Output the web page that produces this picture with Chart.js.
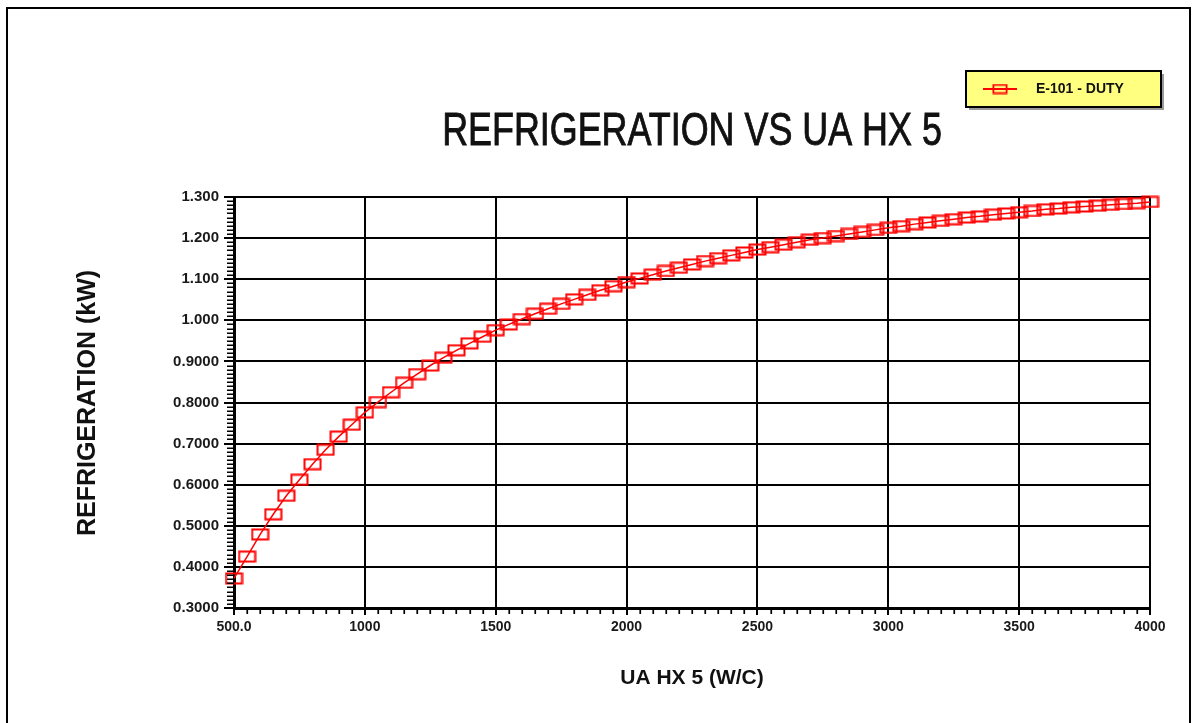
<!DOCTYPE html>
<html>
<head>
<meta charset="utf-8">
<title>Refrigeration vs UA HX 5</title>
<script src="https://cdn.jsdelivr.net/npm/chart.js@4.4.0/dist/chart.umd.min.js"></script>
<style>
  html, body { margin: 0; padding: 0; background: #fff; }
  canvas { display: block; }
</style>
</head>
<body>
<canvas id="duty" width="1195" height="723"></canvas>
<script>
// case study results: UA of HX 5 (W/C) against E-101 duty (kW)
var uaValues = [
  500, 550, 600, 650, 700, 750, 800, 850, 900, 950,
  1000, 1050, 1100, 1150, 1200, 1250, 1300, 1350, 1400, 1450,
  1500, 1550, 1600, 1650, 1700, 1750, 1800, 1850, 1900, 1950,
  2000, 2050, 2100, 2150, 2200, 2250, 2300, 2350, 2400, 2450,
  2500, 2550, 2600, 2650, 2700, 2750, 2800, 2850, 2900, 2950,
  3000, 3050, 3100, 3150, 3200, 3250, 3300, 3350, 3400, 3450,
  3500, 3550, 3600, 3650, 3700, 3750, 3800, 3850, 3900, 3950,
  4000
];
var dutyValues = [
  0.372, 0.425, 0.479, 0.528, 0.573, 0.612, 0.650, 0.685, 0.717, 0.746,
  0.776, 0.801, 0.825, 0.848, 0.869, 0.890, 0.909, 0.927, 0.944, 0.960,
  0.976, 0.990, 1.003, 1.016, 1.028, 1.040, 1.051, 1.062, 1.073, 1.083,
  1.093, 1.102, 1.111, 1.120, 1.128, 1.136, 1.144, 1.151, 1.158, 1.165,
  1.172, 1.178, 1.184, 1.190, 1.196, 1.200, 1.205, 1.210, 1.215, 1.220,
  1.225, 1.229, 1.234, 1.238, 1.242, 1.246, 1.250, 1.253, 1.257, 1.260,
  1.263, 1.266, 1.270, 1.272, 1.275, 1.277, 1.279, 1.281, 1.283, 1.285,
  1.288
];
var xTickLabels = ['500.0', '1000', '1500', '2000', '2500', '3000', '3500', '4000'];
var yTickLabels = ['0.3000', '0.4000', '0.5000', '0.6000', '0.7000', '0.8000',
                   '0.9000', '1.000', '1.100', '1.200', '1.300'];
var seriesName = 'E-101 - DUTY';

var FONT = "'Liberation Sans', Arial, sans-serif";
var RED = '#ff0000';

// open rectangle used as point marker
function makeMarker(w, h, lw) {
  var c = document.createElement('canvas');
  c.width = w; c.height = h;
  var g = c.getContext('2d');
  g.strokeStyle = RED;
  g.lineWidth = lw;
  g.strokeRect(lw / 2 + 0.5, lw / 2 + 0.5, w - lw - 1, h - lw - 1);
  return c;
}
var marker = makeMarker(19, 13, 2);
var legendMarker = makeMarker(16, 11, 1.8);

// outer frame, titles, minor ticks and the legend box
var decorations = {
  id: 'decorations',
  afterDraw: function (chart) {
    var ctx = chart.ctx;
    var area = chart.chartArea;
    var xs = chart.scales.x, ys = chart.scales.y;
    var cx = (area.left + area.right) / 2;

    ctx.save();
    ctx.strokeStyle = '#000';
    ctx.lineWidth = 2;
    ctx.strokeRect(7, 8, 1183, 800);

    // minor ticks
    ctx.lineWidth = 1.7;
    ctx.beginPath();
    for (var v = 31; v < 130; v++) {
      if (v % 10 === 0) continue;
      var py = Math.round(ys.getPixelForValue(v / 100)) + 0.25;
      ctx.moveTo(area.left - 7, py);
      ctx.lineTo(area.left, py);
    }
    for (var u = 550; u < 4000; u += 50) {
      if (u % 500 === 0) continue;
      var px = Math.round(xs.getPixelForValue(u)) + 0.25;
      ctx.moveTo(px, area.bottom);
      ctx.lineTo(px, area.bottom + 6);
    }
    ctx.stroke();

    // chart title, set in a condensed face
    ctx.fillStyle = '#111';
    ctx.strokeStyle = '#111';
    ctx.save();
    ctx.translate(cx, 145);
    ctx.scale(0.78, 1);
    ctx.font = '46px ' + FONT;
    ctx.textAlign = 'center';
    ctx.textBaseline = 'alphabetic';
    ctx.fillText('REFRIGERATION VS UA HX 5', 0, 0);
    ctx.lineWidth = 0.9;
    ctx.strokeText('REFRIGERATION VS UA HX 5', 0, 0);
    ctx.restore();

    // axis titles
    ctx.save();
    ctx.translate(88, 403);
    ctx.rotate(-Math.PI / 2);
    ctx.font = 'bold 25px ' + FONT;
    ctx.textAlign = 'center';
    ctx.textBaseline = 'middle';
    ctx.fillText('REFRIGERATION (kW)', 0, 0);
    ctx.restore();

    ctx.font = 'bold 21px ' + FONT;
    ctx.textAlign = 'center';
    ctx.textBaseline = 'middle';
    ctx.fillText('UA HX 5 (W/C)', cx, 678);

    // legend
    var lx = 966, ly = 71, lw = 195, lh = 36;
    ctx.fillStyle = '#9a9a9a';
    ctx.fillRect(lx + 3, ly + 3, lw, lh);
    ctx.fillStyle = '#ffff80';
    ctx.fillRect(lx, ly, lw, lh);
    ctx.lineWidth = 2;
    ctx.strokeStyle = '#000';
    ctx.strokeRect(lx, ly, lw, lh);
    ctx.strokeStyle = RED;
    ctx.lineWidth = 2;
    ctx.beginPath();
    ctx.moveTo(983, 89);
    ctx.lineTo(1017, 89);
    ctx.stroke();
    ctx.drawImage(legendMarker, 1000 - 8, 89 - 5.5);
    ctx.fillStyle = '#111';
    ctx.font = 'bold 14px ' + FONT;
    ctx.textAlign = 'left';
    ctx.textBaseline = 'middle';
    ctx.fillText(chart.data.datasets[0].label, 1036, 89);
    ctx.restore();
  }
};

var points = uaValues.map(function (x, i) { return { x: x, y: dutyValues[i] }; });

new Chart(document.getElementById('duty'), {
  type: 'line',
  data: {
    datasets: [{
      label: seriesName,
      data: points,
      borderColor: RED,
      borderWidth: 1.5,
      backgroundColor: 'transparent',
      pointStyle: marker,
      pointRadius: 9,
      tension: 0,
      clip: false
    }]
  },
  options: {
    responsive: false,
    animation: false,
    layout: { padding: { top: 197, right: 45, left: 0, bottom: 0 } },
    plugins: {
      legend: { display: false },
      tooltip: { enabled: false },
      title: { display: false }
    },
    scales: {
      x: {
        type: 'linear',
        min: 500,
        max: 4000,
        afterFit: function (scale) { scale.height = 115; },
        border: { display: true, color: '#000', width: 3 },
        grid: { color: '#000', lineWidth: 2, tickLength: 7, tickColor: '#000' },
        ticks: {
          stepSize: 500,
          padding: 4,
          color: '#1a1a1a',
          font: { family: FONT, size: 14, weight: 'bold' },
          maxRotation: 0,
          callback: function (v, i) { return xTickLabels[i]; }
        }
      },
      y: {
        min: 0.3,
        max: 1.3,
        afterFit: function (scale) { scale.width = 234; },
        border: { display: true, color: '#000', width: 3 },
        grid: { color: '#000', lineWidth: 2, tickLength: 10, tickColor: '#000' },
        ticks: {
          stepSize: 0.1,
          padding: 5,
          color: '#1a1a1a',
          font: { family: FONT, size: 15, weight: 'bold' },
          callback: function (v, i) { return yTickLabels[i]; }
        }
      }
    }
  },
  plugins: [decorations]
});
</script>
</body>
</html>
